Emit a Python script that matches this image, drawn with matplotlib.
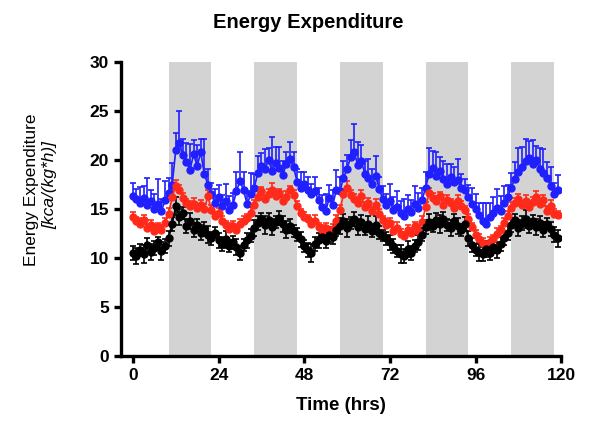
import numpy as np
import matplotlib
matplotlib.use("Agg")
import matplotlib.pyplot as plt

plt.rcParams['font.family'] = ['Liberation Sans', 'DejaVu Sans']

# hourly time points
hours = np.arange(0, 120)

# dark phases (shaded)
dark_start = [10, 34, 58, 82, 106]
dark_end = [22, 46, 70, 94, 118]

blue_mean = [16.3, 16.0, 15.6, 16.1, 15.4, 15.8, 15.0, 15.5, 14.8, 15.9,
             16.6, 17.5, 21.0, 21.8, 20.5, 19.8, 19.0, 20.6, 19.4, 20.8, 18.6, 17.5,
             16.5, 15.6, 16.2, 15.3, 15.8, 14.9, 15.4, 16.8, 17.9, 16.9, 15.5, 16.5,
             17.2, 18.7, 19.4, 19.1, 20.0, 18.9, 19.7, 19.2, 18.5, 19.6, 20.1, 19.3,
             17.8, 17.2, 17.6, 16.9, 16.5, 16.8, 15.9, 15.2, 14.8, 16.1, 15.4, 17.0,
             16.8, 18.2, 19.1, 20.3, 20.8, 19.5, 19.9, 18.6, 18.2, 17.6, 18.4, 17.1,
             16.0, 15.4, 15.8, 14.9, 15.2, 14.6, 14.3, 15.0, 14.7, 15.5, 15.1, 15.9,
             17.2, 18.6, 19.2, 18.4, 18.9, 18.1, 17.6, 18.3, 17.8, 18.0, 17.2, 16.9,
             16.2, 15.5, 15.0, 14.4, 13.8, 13.5, 14.2, 14.6, 15.1, 14.8, 15.6, 16.2,
             17.2, 18.1, 18.8, 19.3, 19.9, 20.2, 19.6, 20.0, 19.1, 18.7, 18.2, 17.4, 16.5, 17.0]
blue_err = [1.4, 1.1, 1.7, 1.3, 2.8, 1.2, 1.5, 2.6, 1.2, 2.0,
            1.6, 2.2, 1.8, 3.2, 1.7, 1.9, 2.6, 1.5, 2.1, 1.4, 3.6, 1.6,
            1.2, 1.5, 1.3, 1.1, 1.8, 1.4, 1.2, 2.0, 2.9, 1.9, 1.3, 2.2,
            1.4, 1.7, 1.3, 2.0, 1.2, 3.5, 1.6, 2.1, 1.4, 1.2, 1.8, 1.5,
            1.3, 1.6, 1.2, 1.4, 1.1, 1.5, 1.3, 1.2, 1.7, 1.4, 1.6, 2.0,
            1.5, 1.7, 1.4, 1.8, 2.9, 2.4, 1.6, 1.3, 1.9, 1.5, 2.0, 1.2,
            1.4, 1.1, 1.8, 1.3, 1.6, 1.2, 1.7, 1.4, 1.2, 1.9, 1.5, 1.3,
            1.6, 2.6, 1.7, 2.4, 1.4, 1.8, 2.0, 1.3, 1.5, 2.1, 1.4, 1.2,
            1.3, 1.7, 1.5, 1.2, 1.8, 2.1, 1.4, 1.6, 2.0, 1.5, 1.8, 1.3,
            1.5, 1.7, 2.4, 2.0, 2.3, 1.8, 2.5, 1.4, 2.1, 2.4, 1.6, 1.9, 1.2, 1.5]

red_mean = [14.2, 13.8, 13.5, 13.9, 13.1, 13.4, 12.8, 13.2, 12.9, 13.6,
            14.5, 16.2, 17.4, 17.0, 16.1, 15.6, 15.3, 15.5, 15.1, 15.4, 15.0, 16.3,
            14.9, 14.3, 14.6, 13.8, 13.4, 13.0, 13.3, 12.9, 13.5, 13.8, 14.1, 14.6,
            15.4, 16.2, 16.8, 16.0, 16.5, 17.0, 16.3, 16.6, 15.8, 16.2, 16.9, 16.4,
            15.3, 14.6, 14.2, 14.0, 13.5, 13.8, 13.2, 12.9, 13.1, 12.6, 13.0, 13.8,
            14.9, 16.5, 17.2, 16.4, 16.0, 15.6, 16.3, 15.2, 15.6, 14.8, 15.4, 14.5,
            13.9, 13.4, 13.6, 12.8, 13.1, 12.5, 12.3, 12.9, 12.6, 13.3, 12.8, 13.7,
            15.2, 16.6, 16.1, 15.8, 16.3, 15.4, 15.9, 15.6, 15.1, 15.8, 15.3, 14.9,
            14.0, 13.2, 12.4, 11.9, 11.5, 11.2, 11.6, 11.9, 12.5, 12.9, 13.6, 14.3,
            15.1, 15.6, 16.0, 15.4, 15.8, 15.2, 15.7, 16.2, 15.5, 15.9, 14.8, 15.3, 14.5, 14.4]
red_err = [0.5, 0.4, 0.6, 0.5, 0.4, 0.5, 0.6, 0.4, 0.5, 0.5,
           0.6, 0.7, 0.6, 0.5, 0.5, 0.4, 0.5, 0.6, 0.4, 0.5, 0.5, 0.6,
           0.5, 0.4, 0.5, 0.5, 0.4, 0.6, 0.5, 0.4, 0.5, 0.5, 0.4, 0.6,
           0.5, 0.6, 0.5, 0.4, 0.6, 0.7, 0.5, 0.5, 0.4, 0.6, 0.5, 0.5,
           0.5, 0.4, 0.5, 0.4, 0.5, 0.6, 0.4, 0.5, 0.5, 0.4, 0.5, 0.6,
           0.5, 0.6, 0.7, 0.5, 0.5, 0.4, 0.6, 0.5, 0.5, 0.4, 0.6, 0.5,
           0.4, 0.5, 0.5, 0.4, 0.6, 0.5, 0.4, 0.5, 0.5, 0.4, 0.5, 0.6,
           0.5, 0.6, 0.5, 0.5, 0.4, 0.6, 0.5, 0.4, 0.5, 0.6, 0.5, 0.4,
           0.5, 0.4, 0.5, 0.6, 0.5, 0.4, 0.5, 0.5, 0.6, 0.4, 0.5, 0.5,
           0.6, 0.5, 0.5, 0.4, 0.6, 0.5, 0.5, 0.6, 0.4, 0.5, 0.5, 0.6, 0.5, 0.4]

black_mean = [10.5, 10.2, 10.8, 10.4, 11.3, 10.6, 11.0, 11.6, 10.7, 11.2,
              12.0, 13.5, 15.3, 14.2, 14.6, 13.3, 13.8, 12.9, 13.4, 12.6, 13.0, 12.4,
              12.0, 12.6, 11.8, 11.4, 11.9, 11.2, 11.6, 11.1, 10.5, 11.3, 11.8, 12.3,
              13.1, 13.6, 14.0, 13.4, 13.9, 13.2, 13.7, 14.1, 13.5, 12.9, 13.3, 12.8,
              12.4, 11.9, 11.2, 10.8, 10.5, 11.4, 11.8, 12.2, 11.7, 12.4, 12.1, 12.9,
              13.3, 13.8, 13.1, 13.6, 14.0, 13.2, 13.7, 13.0, 13.5, 12.8, 13.4, 12.6,
              12.3, 12.0, 11.6, 11.2, 10.7, 10.4, 10.2, 10.9, 10.5, 11.2, 11.6, 12.4,
              13.2, 13.7, 13.3, 13.9, 13.5, 14.0, 13.4, 13.1, 13.8, 13.3, 12.9, 13.5,
              12.0, 11.3, 10.8, 10.6, 10.4, 10.9, 10.5, 11.1, 10.8, 11.4, 12.0, 12.6,
              13.4, 13.9, 13.1, 13.6, 14.0, 13.3, 13.8, 13.2, 13.6, 12.9, 13.5, 13.0, 12.4, 12.0]
black_err = [0.7, 0.8, 0.6, 0.9, 0.7, 0.8, 0.7, 0.6, 0.9, 0.7,
             0.8, 0.7, 0.9, 0.8, 0.6, 0.7, 0.8, 0.7, 0.6, 0.8, 0.7, 0.9,
             0.7, 0.6, 0.8, 0.7, 0.9, 0.6, 0.7, 0.8, 0.7, 0.6, 0.8, 0.7,
             0.8, 0.7, 0.6, 0.9, 0.7, 0.8, 0.6, 0.7, 0.8, 0.9, 0.7, 0.6,
             0.7, 0.8, 0.6, 0.7, 0.9, 0.7, 0.8, 0.6, 0.7, 0.8, 0.7, 0.6,
             0.8, 0.7, 0.9, 0.6, 0.7, 0.8, 0.7, 0.6, 0.8, 0.7, 0.9, 0.7,
             0.6, 0.7, 0.8, 0.7, 0.6, 0.9, 0.7, 0.8, 0.7, 0.6, 0.8, 0.7,
             0.7, 0.8, 0.6, 0.7, 0.9, 0.7, 0.6, 0.8, 0.7, 0.8, 0.6, 0.7,
             0.8, 0.7, 0.6, 0.9, 0.7, 0.8, 0.7, 0.6, 0.8, 0.7, 0.7, 0.8,
             0.7, 0.6, 0.8, 0.7, 0.9, 0.7, 0.6, 0.8, 0.7, 0.8, 0.6, 0.7, 0.8, 0.9]

fig = plt.figure(figsize=(5.92, 4.32), dpi=100)
ax = fig.add_axes([0.204, 0.176, 0.744, 0.68])

for s, e in zip(dark_start, dark_end):
    ax.axvspan(s, e, color='#d3d3d3', lw=0, zorder=0)

zeros = np.zeros(len(hours))
series = [
    (blue_mean, [zeros, blue_err], '#1f1fff'),
    (red_mean, [zeros, red_err], '#ff2a1a'),
    (black_mean, black_err, 'black'),
]
for mean, err, col in series:
    ax.errorbar(hours, mean, yerr=err, color=col, marker='o', ms=5, lw=1.2,
                elinewidth=1.2, capsize=2, capthick=1.2)

ax.set_xlim(-3.4, 120)
ax.set_ylim(0, 30)
ax.set_xticks([0, 24, 48, 72, 96, 120])
ax.set_yticks([0, 5, 10, 15, 20, 25, 30])
ax.spines['top'].set_visible(False)
ax.spines['right'].set_visible(False)
for sp in ['left', 'bottom']:
    ax.spines[sp].set_linewidth(2.4)
ax.tick_params(width=2.4, length=5, labelsize=12.5, direction='out')
for lab in ax.get_xticklabels() + ax.get_yticklabels():
    lab.set_fontweight('bold')

ax.set_xlabel('Time (hrs)', fontsize=13.5, fontweight='bold', labelpad=10)
fig.text(0.52, 0.948, 'Energy Expenditure', fontsize=14.5, fontweight='bold',
         ha='center', va='center')
fig.text(32 / 592, 1 - 190 / 432, 'Energy Expenditure', fontsize=12.5,
         rotation=90, ha='center', va='center')
fig.text(50 / 592, 1 - 185 / 432, '[kca/(kg*h)]', fontsize=12.5, style='italic',
         rotation=90, ha='center', va='center')

fig.savefig('out.png', dpi=100)
